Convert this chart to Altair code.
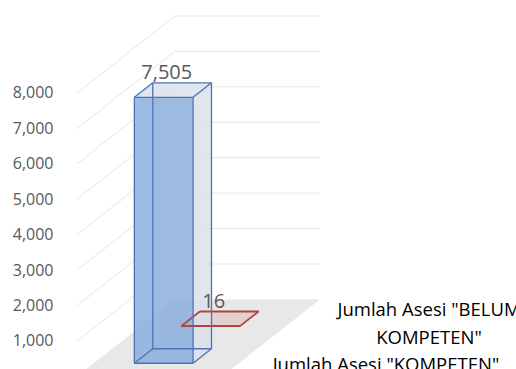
import textwrap
import altair as alt
import pandas as pd

# ---------------- data ----------------
categories = ['Jumlah Asesi "KOMPETEN"', 'Jumlah Asesi "BELUM KOMPETEN"']
values = [7505, 16]
y_ticks = [1000, 2000, 3000, 4000, 5000, 6000, 7000, 8000]

# ---------------- styles ----------------
front_fill = ["#84aadb", "#e4d0d0"]
side_fill = ["#d9e0ea", "#e4d0d0"]
edge_color = ["#4a74b4", "#b0443f"]
cat_dx = [138, 134]
cat_dy = [9, 5]
FONT = "Open Sans"
LINE_H = 28

# ---------------- oblique 3-D projection / layout ----------------
W, H, PAD_L = 458, 369, 58
PX_PER_C = 145.0          # pixels per category width (front plane)
FRONT_LEFT = 77.0         # page x of the front-left floor corner
PX_PER_V = 0.03543        # pixels per value unit
Y0 = 376.4                # page y of value 0 on the front plane
DC = 98.0 / PX_PER_C      # depth shift (x) for full depth, in category units
DV = 77.0 / PX_PER_V      # depth shift (y) for full depth, in value units
BAR_C0, BAR_C1 = 0.28, 0.685
ROW_T0, ROW_STEP, ROW_HALF = 0.265, 0.48, 0.094


def proj(c, v, t):
    return c + DC * t, v + DV * t


XS = alt.Scale(domain=[(PAD_L - FRONT_LEFT) / PX_PER_C, (PAD_L + W - FRONT_LEFT) / PX_PER_C],
               zero=False, nice=False)
YS = alt.Scale(domain=[(Y0 - H) / PX_PER_V, Y0 / PX_PER_V], zero=False, nice=False)
YAXIS = alt.Axis(values=y_ticks, labelExpr="format(datum.value, ',')", grid=False,
                 domain=False, ticks=False, labelPadding=5, labelFontSize=16,
                 labelColor="#595959", labelFont=FONT, title=None)


def xq(f="x"):
    return alt.X(f"{f}:Q", scale=XS, axis=None)


def yq(f="y"):
    return alt.Y(f"{f}:Q", scale=YS, axis=YAXIS)


# ---------------- walls & floor ----------------
grid_rows = []
for v in y_ticks:
    a, b = proj(0, v, 0), proj(0, v, 1)
    grid_rows.append(dict(x=a[0], y=a[1], x2=b[0], y2=b[1]))
    a, b = proj(0, v, 1), proj(1, v, 1)
    grid_rows.append(dict(x=a[0], y=a[1], x2=b[0], y2=b[1]))
grid = alt.Chart(pd.DataFrame(grid_rows)).mark_rule(color="#e6e6e6", strokeWidth=1).encode(
    x=xq(), y=yq(), x2="x2:Q", y2="y2:Q")

floor_rows = []
for t in (0, 1):
    (xa, ya), (xb, _) = proj(0, 0, t), proj(1, 0, t)
    floor_rows.append(dict(y=ya, x=xa, x2=xb))
floor = alt.Chart(pd.DataFrame(floor_rows)).mark_area(orient="horizontal", color="#e8e8e8").encode(
    y=yq(), x=xq(), x2="x2:Q")

# ---------------- 3-D columns ----------------
face_layers, edge_layers, label_rows, cat_layers = [], [], [], []
for i, (cat, val) in enumerate(zip(categories, values)):
    tc = ROW_T0 + ROW_STEP * i
    tf, tb = tc - ROW_HALF, tc + ROW_HALF
    op = 0.8 if i == 0 else 1.0

    fx0, fy0 = proj(BAR_C0, val, tf)
    fx1, fy1 = proj(BAR_C1, 0, tf)
    front = alt.Chart(pd.DataFrame([dict(x=fx0, x2=fx1, y=fy0, y2=fy1)])).mark_rect(
        color=front_fill[i], opacity=op).encode(x=xq(), x2="x2:Q", y=yq(), y2="y2:Q")

    side_rows, top_rows = [], []
    for t in (tf, tb):
        sx, sy = proj(BAR_C1, val, t)
        side_rows.append(dict(x=sx, y=sy, y2=proj(BAR_C1, 0, t)[1]))
        tx0, ty = proj(BAR_C0, val, t)
        top_rows.append(dict(y=ty, x=tx0, x2=proj(BAR_C1, val, t)[0]))
    side = alt.Chart(pd.DataFrame(side_rows)).mark_area(
        orient="vertical", color=side_fill[i], opacity=op).encode(x=xq(), y=yq(), y2="y2:Q")
    top = alt.Chart(pd.DataFrame(top_rows)).mark_area(
        orient="horizontal", color=side_fill[i], opacity=op).encode(y=yq(), x=xq(), x2="x2:Q")
    face_layers.append([side, top, front])

    corners = {}
    for c in (BAR_C0, BAR_C1):
        for v in (0, val):
            for t in (tf, tb):
                corners[(c, v, t)] = proj(c, v, t)
    keys = list(corners)
    edge_rows = []
    for a_i in range(len(keys)):
        for b_i in range(a_i + 1, len(keys)):
            ka, kb = keys[a_i], keys[b_i]
            if sum(p != q for p, q in zip(ka, kb)) == 1:
                edge_rows.append(dict(x=corners[ka][0], y=corners[ka][1],
                                      x2=corners[kb][0], y2=corners[kb][1]))
    edges = alt.Chart(pd.DataFrame(edge_rows)).mark_rule(
        color=edge_color[i], strokeWidth=1.3).encode(x=xq(), y=yq(), x2="x2:Q", y2="y2:Q")
    edge_layers.append(edges)

    lx, ly = proj((BAR_C0 + BAR_C1) / 2, val, tf)
    label_rows.append(dict(x=lx, y=ly, val=val))

    cx, cy = proj(1, 0, tc)
    lines = textwrap.wrap(cat, 23)
    cat_layers.append(
        alt.Chart(pd.DataFrame([dict(x=cx, y=cy, label="\n".join(lines))])).mark_text(
            align="center", baseline="middle", dx=cat_dx[i],
            dy=cat_dy[i] - (len(lines) - 1) * LINE_H / 2, lineBreak="\n", lineHeight=LINE_H,
            fontSize=18.5, color="#000000", font=FONT).encode(x=xq(), y=yq(), text="label:N"))

labels = alt.Chart(pd.DataFrame(label_rows)).mark_text(
    dx=3, dy=-18, baseline="alphabetic", align="center", fontSize=20,
    color="#595959", font=FONT).encode(x=xq(), y=yq(), text=alt.Text("val:Q", format=","))

# back row (BELUM) first, then front row (KOMPETEN); edges drawn over the faces
layers = ([grid, floor] + face_layers[1] + face_layers[0] + edge_layers[::-1]
          + [labels] + cat_layers)

chart = alt.layer(*layers).properties(
    width=W, height=H,
    padding={"left": PAD_L, "top": 0, "right": 0, "bottom": 0},
    autosize=alt.AutoSizeParams(type="none"),
    background="white",
).configure_view(stroke=None)

chart.save("out.html", embed_options={"renderer": "svg", "actions": False})
